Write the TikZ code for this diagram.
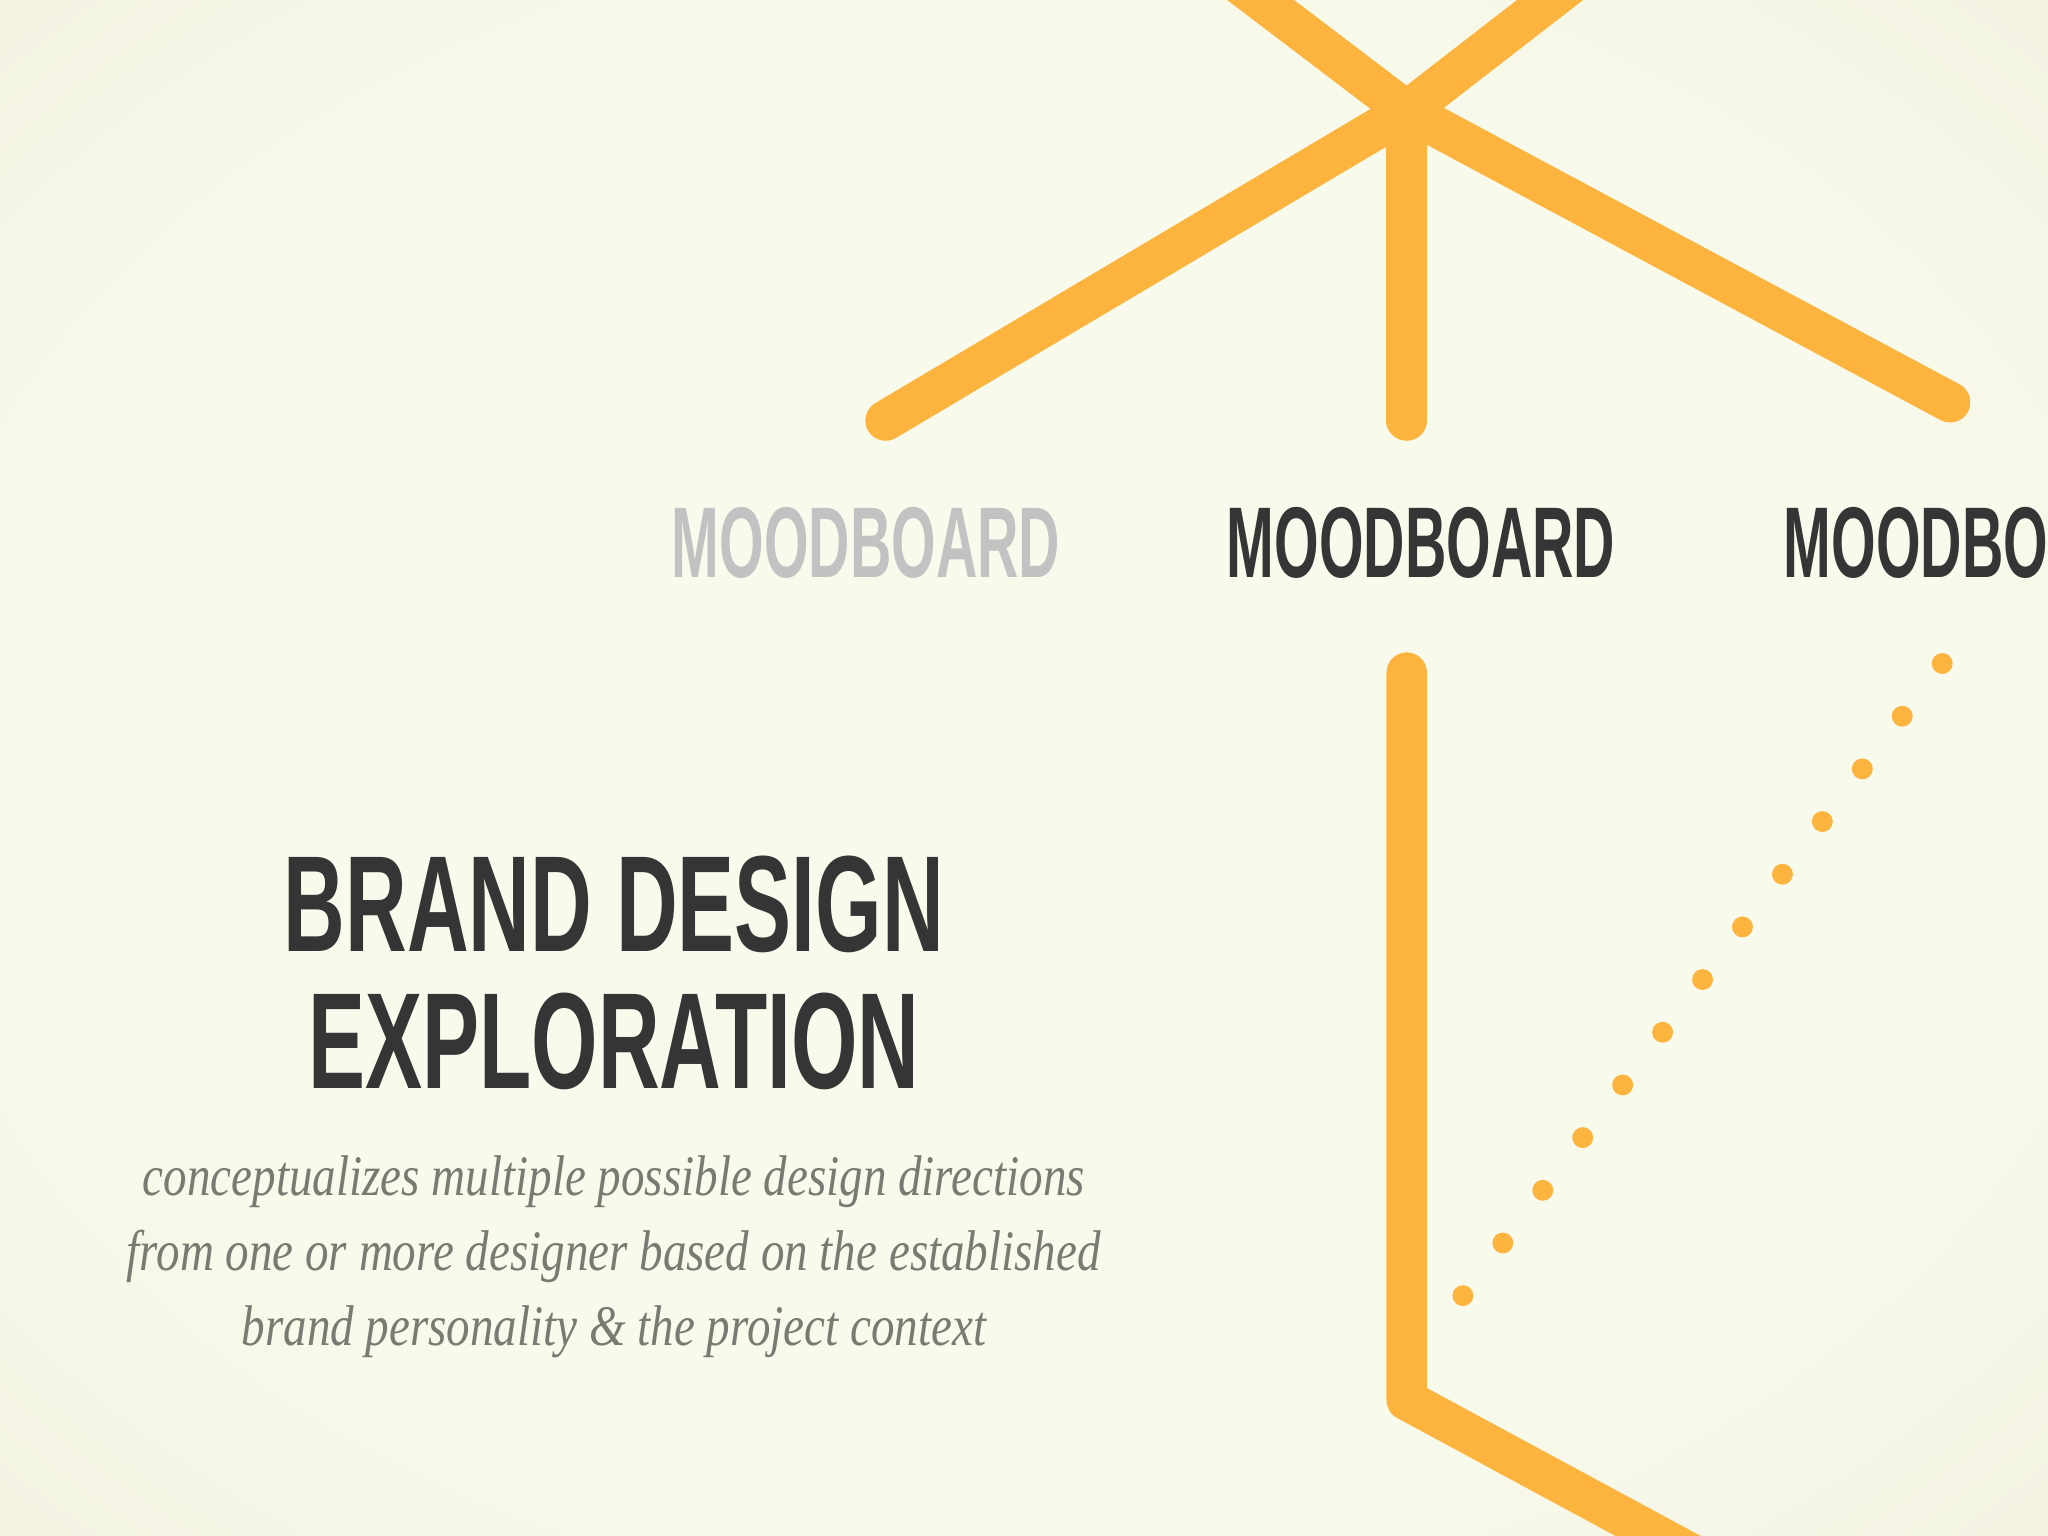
\documentclass[tikz,border=0pt]{standalone}
\usepackage{fontspec}
\setmainfont{Liberation Serif}
\newfontfamily\titlefont[FakeStretch=0.625]{Liberation Sans}
\newfontfamily\boardfont[FakeStretch=0.57]{Liberation Sans}
\newfontfamily\notefont[FakeStretch=0.82]{Liberation Serif}

\definecolor{rayorange}{HTML}{FDB43F}
\definecolor{inkdark}{HTML}{353535}
\definecolor{boardgrey}{HTML}{C2C2C2}
\definecolor{notegrey}{HTML}{7A7A72}
\definecolor{bgin}{HTML}{F8FBEC}
\definecolor{bgout}{HTML}{EFE9D6}

\pgfdeclareradialshading{vignette}{\pgfpoint{0bp}{0bp}}{%
  color(0bp)=(bgin); color(22bp)=(bgin); color(50bp)=(bgout)}

\begin{document}
\begin{tikzpicture}[
    ray/.style={draw=rayorange, line width=0.31cm, line cap=round, line join=round},
    board/.style={font=\boardfont\bfseries\fontsize{21.9}{22}\selectfont, inner sep=0pt},
    title/.style={font=\titlefont\bfseries\fontsize{29.8}{29.9}\selectfont, text=inkdark, align=center, inner sep=0pt},
    note/.style={font=\notefont\itshape\fontsize{12.5}{16.4}\selectfont, text=notegrey, anchor=base, inner sep=0pt}
]
    \useasboundingbox (0,0) rectangle (15.68,11.76);
    \shade[shading=vignette] (0,0) rectangle (15.68,11.76);
    \clip (0,0) rectangle (15.68,11.76);

    % Branching rays at the top
    \coordinate (hub) at (10.77,10.91);
    \coordinate (tipUL) at (9.19,12.11);
    \coordinate (tipUR) at (12.32,12.11);
    \coordinate (tipL) at (6.78,8.54);
    \coordinate (tipD) at (10.77,8.54);
    \coordinate (tipR) at (14.93,8.68);
    \foreach \t in {tipUL,tipUR,tipL,tipD,tipR} {
        \draw[ray] (hub) -- (\t);
    }

    % Moodboard labels
    \node[board, text=boardgrey] (boardA) at (6.63,7.605) {MOODBOARD};
    \node[board, text=inkdark] (boardB) at (10.88,7.605) {MOODBOARD};
    \node[board, text=inkdark, anchor=west] (boardC) at (13.65,7.605) {MOODBOARD};

    % Stem below the middle board
    \coordinate (stemtop) at (10.77,6.61);
    \coordinate (bend) at (10.77,1.04);
    \coordinate (stemexit) at (13.25,-0.30);
    \draw[ray] (stemtop) -- (bend) -- (stemexit);

    % Dotted trail
    \foreach \k in {0,...,12} {
        \fill[rayorange] ({11.20+0.3058*\k},{1.84+0.4033*\k}) circle (0.08);
    }

    % Heading and description
    \node[title] (heading) at (4.70,4.31) {BRAND DESIGN\\EXPLORATION};
    \node[note] (note1) at (4.70,2.61) {conceptualizes multiple possible design directions};
    \node[note] (note2) at (4.70,2.03) {from one or more designer based on the established};
    \node[note] (note3) at (4.70,1.46) {brand personality \& the project context};
\end{tikzpicture}
\end{document}
